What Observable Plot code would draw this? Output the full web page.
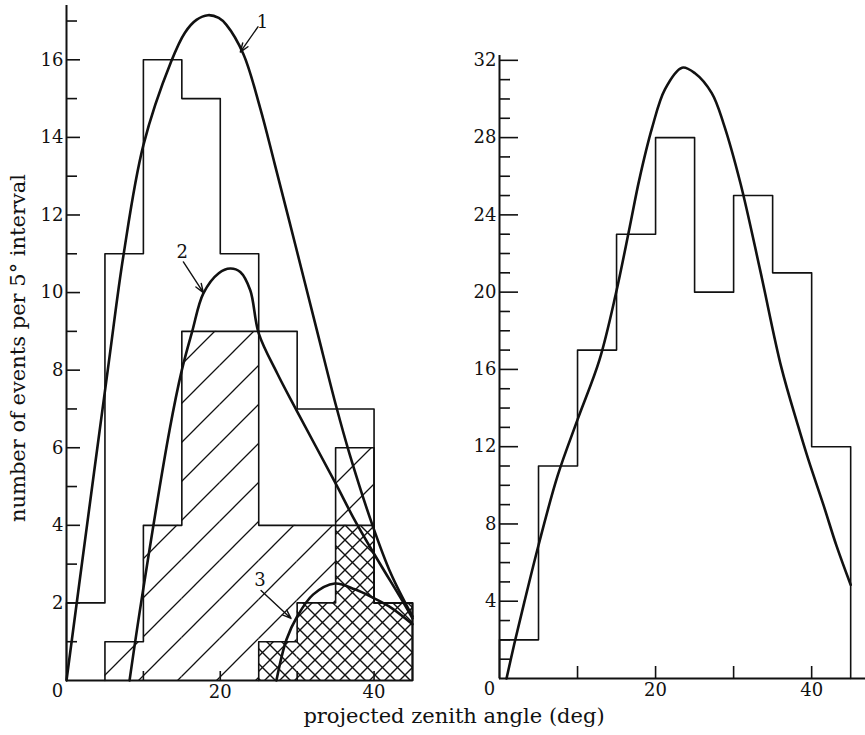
<!DOCTYPE html>
<html>
<head>
<meta charset="utf-8">
<script src="https://cdn.jsdelivr.net/npm/d3@7"></script>
<script src="https://cdn.jsdelivr.net/npm/@observablehq/plot@0.6"></script>
<style>
  html, body { margin: 0; padding: 0; background: #fff; }
  #figure { position: relative; width: 865px; height: 735px; overflow: hidden; background: #fff;
            font-family: "DejaVu Serif", serif; color: #111; }
  #left, #right { position: absolute; top: 0; }
  #left { left: 0; }
  #right { left: 430px; }
  #xlabel { position: absolute; left: 0; width: 908px; top: 706px; text-align: center;
            font-size: 21px; line-height: 21px; white-space: nowrap; }
</style>
</head>
<body>
<!-- fill patterns for the hatched histograms -->
<svg width="0" height="0" style="position:absolute">
  <defs>
    <pattern id="hatch-single" patternUnits="userSpaceOnUse" width="39" height="39">
      <path d="M-2,2 L2,-2 M0,39 L39,0 M37,41 L41,37" stroke="#111" stroke-width="1.3" fill="none"/>
    </pattern>
    <pattern id="hatch-cross" patternUnits="userSpaceOnUse" width="15" height="15">
      <rect width="15" height="15" fill="#fff"/>
      <path d="M-2,2 L2,-2 M0,15 L15,0 M13,17 L17,13 M-2,13 L2,17 M0,0 L15,15 M13,-2 L17,2" stroke="#111" stroke-width="1.4" fill="none"/>
    </pattern>
  </defs>
</svg>
<div id="figure">
  <div id="left"></div>
  <div id="right"></div>
  <div id="xlabel">projected zenith angle (deg)</div>
</div>
<script>
// 5-degree bins of projected zenith angle
const binStarts = [0, 5, 10, 15, 20, 25, 30, 35, 40];
const binWidth = 5;

// left panel: all events, single-hatched subset, cross-hatched subset
const allEvents     = [2, 11, 16, 15, 11, 9, 7, 7, 2];
const hatchedEvents = [0, 1, 4, 9, 9, 4, 4, 6, 2];
const crossEvents   = [0, 0, 0, 0, 0, 1, 2, 4, 2];

// right panel histogram
const rightEvents = [2, 11, 17, 23, 28, 20, 25, 21, 12];

// expected distributions (left panel: curves 1, 2, 3)
const curve1X = [0, 2.8, 5.5, 7.4, 10.0, 13.6, 15.4, 16.9, 18.4, 19.8, 20.8, 23.0, 25.2, 27.1, 29.8, 32.6, 35.1, 36.8, 39.8, 42.2, 45];
const curve1Y = [0, 4.2, 8.2, 10.95, 13.8, 15.95, 16.7, 17.03, 17.15, 17.08, 16.9, 16.15, 14.75, 13.3, 11.2, 9.0, 7.05, 5.85, 4.0, 2.75, 1.65];
const curve2X = [8.2, 9.7, 13.4, 15.0, 16.35, 17.8, 19.8, 21.3, 22.6, 23.9, 25.0, 27.4, 29.9, 35.0, 37.3, 39.9, 43.9, 45];
const curve2Y = [0, 2.0, 6.45, 8.0, 9.0, 9.98, 10.5, 10.62, 10.53, 10.06, 8.95, 7.92, 6.97, 5.08, 4.2, 3.3, 1.98, 1.6];
const curve3X = [27.3, 28.6, 30.0, 32.1, 34.9, 37.5, 39.7, 42.2, 45];
const curve3Y = [0, 1.05, 1.65, 2.22, 2.5, 2.35, 2.15, 1.88, 1.45];

// expected distribution (right panel)
const curveRX = [0.9, 1.9, 3.15, 5.0, 7.45, 10.0, 12.8, 14.9, 16.7, 17.9, 19.55, 21.2, 23.4, 25.05, 27.2, 28.7, 30.9, 33.4, 36.1, 38.3, 39.6, 41.5, 43.2, 45];
const curveRY = [0, 1.8, 3.9, 6.9, 10.5, 13.4, 16.48, 19.9, 23.4, 25.8, 28.5, 30.5, 31.62, 31.33, 30.3, 28.74, 25.6, 21.14, 16.13, 13.02, 11.3, 9.0, 6.85, 4.85];

// curve labels and their pointer arrows
const curveLabels = ["1", "2", "3"];
const labelX = [25.5, 15.06, 25.15];
const labelY = [16.98, 11.05, 2.58];
const arrowFromX = [24.9, 15.2, 25.3];
const arrowFromY = [16.85, 10.79, 2.32];
const arrowToX = [22.6, 17.8, 29.2];
const arrowToY = [16.2, 10.0, 1.6];

// axis ticks
const xTicks = [10, 20, 30, 40];
const xTickLabels = [20, 40];
const leftMajorTicks = [2, 4, 6, 8, 10, 12, 14, 16];
const leftMinorTicks = [1, 3, 5, 7, 9, 11, 13, 15, 17];
const rightMajorTicks = [4, 8, 12, 16, 20, 24, 28, 32];
const rightMinorTicks = [1, 2, 3, 5, 6, 7, 9, 10, 11, 13, 14, 15, 17, 18, 19, 21, 22, 23, 25, 26, 27, 29, 30, 31];

const yLabel = "number of events per 5\u00b0 interval";
const ink = "#111";

function bins(values) {
  return binStarts
    .map((x0, i) => ({x1: x0, x2: x0 + binWidth, y: values[i]}))
    .filter(d => d.y > 0);
}
// closed step outline of a histogram
function outline(values) {
  const b = bins(values);
  const pts = [{x: b[0].x1, y: 0}];
  for (const d of b) pts.push({x: d.x1, y: d.y});
  const last = b[b.length - 1];
  pts.push({x: last.x2, y: last.y}, {x: last.x2, y: 0});
  return pts;
}
const points = (xs, ys) => xs.map((x, i) => ({x, y: ys[i]}));

const baseStyle = {fontFamily: "DejaVu Serif", fontSize: "18px", color: ink, background: "transparent", overflow: "visible"};
const histLine = {x: "x", y: "y", curve: "step-after", stroke: ink, strokeWidth: 1.6};
const fitLine = {x: "x", y: "y", curve: "catmull-rom", stroke: ink, strokeWidth: 2.6};

const left = Plot.plot({
  width: 430, height: 735,
  marginLeft: 66, marginRight: 18, marginTop: 5, marginBottom: 55,
  x: {domain: [0, 45]},
  y: {domain: [0, 17.4]},
  style: baseStyle,
  marks: [
    Plot.rect(bins(hatchedEvents), {x1: "x1", x2: "x2", y1: () => 0, y2: "y", fill: "url(#hatch-single)"}),
    Plot.rect(bins(crossEvents), {x1: "x1", x2: "x2", y1: () => 0, y2: "y", fill: "url(#hatch-cross)"}),
    Plot.line(outline(allEvents), histLine),
    Plot.line(outline(hatchedEvents), histLine),
    Plot.line(outline(crossEvents), histLine),
    Plot.line(points(curve1X, curve1Y), fitLine),
    Plot.line(points(curve2X, curve2Y), fitLine),
    Plot.line(points(curve3X, curve3Y), fitLine),
    Plot.ruleX([0], {stroke: ink, strokeWidth: 2}),
    Plot.ruleY([0], {stroke: ink, strokeWidth: 2}),
    Plot.axisY({ticks: leftMajorTicks, anchor: "right", frameAnchor: "left", tickSize: 13, fill: "none", label: null, stroke: ink, strokeWidth: 1.6}),
    Plot.axisY({ticks: leftMinorTicks, anchor: "right", frameAnchor: "left", tickSize: 10, fill: "none", label: null, stroke: ink, strokeWidth: 1.6}),
    Plot.axisY({ticks: leftMajorTicks, anchor: "left", tickSize: 0, tickPadding: 3, label: null, fill: ink}),
    Plot.axisX({ticks: xTicks, anchor: "top", frameAnchor: "bottom", tickSize: 10, fill: "none", label: null, stroke: ink, strokeWidth: 1.6}),
    Plot.axisX({ticks: xTickLabels, anchor: "bottom", tickSize: 0, tickPadding: 5, label: null, fill: ink}),
    Plot.text(["0"], {x: () => 0, y: () => 0, text: d => d, dx: -9, dy: 11, fill: ink}),
    Plot.arrow(curveLabels, {
      x1: (d, i) => arrowFromX[i], y1: (d, i) => arrowFromY[i],
      x2: (d, i) => arrowToX[i], y2: (d, i) => arrowToY[i],
      stroke: ink, strokeWidth: 1.4, headLength: 10, headAngle: 40
    }),
    Plot.text(curveLabels, {x: (d, i) => labelX[i], y: (d, i) => labelY[i], text: d => d, fontSize: 18, fill: ink}),
    Plot.text([yLabel], {frameAnchor: "left", textAnchor: "middle", rotate: -90, dx: -48, dy: 5, fontSize: 21, fill: ink, text: d => d})
  ]
});

const right = Plot.plot({
  width: 435, height: 735,
  marginLeft: 69, marginRight: 0, marginTop: 55, marginBottom: 57,
  x: {domain: [0, 46.9]},
  y: {domain: [0, 32.25]},
  style: baseStyle,
  marks: [
    Plot.line(outline(rightEvents), histLine),
    Plot.line(points(curveRX, curveRY), fitLine),
    Plot.ruleX([0], {stroke: ink, strokeWidth: 2}),
    Plot.ruleY([0], {stroke: ink, strokeWidth: 2}),
    Plot.axisY({ticks: rightMajorTicks, anchor: "right", frameAnchor: "left", tickSize: 18, fill: "none", label: null, stroke: ink, strokeWidth: 1.6}),
    Plot.axisY({ticks: rightMinorTicks, anchor: "right", frameAnchor: "left", tickSize: 10, fill: "none", label: null, stroke: ink, strokeWidth: 1.6}),
    Plot.axisY({ticks: rightMajorTicks, anchor: "left", tickSize: 0, tickPadding: 3, label: null, fill: ink}),
    Plot.axisX({ticks: xTicks, anchor: "top", frameAnchor: "bottom", tickSize: 13, fill: "none", label: null, stroke: ink, strokeWidth: 1.6}),
    Plot.axisX({ticks: xTickLabels, anchor: "bottom", tickSize: 0, tickPadding: 5, label: null, fill: ink}),
    Plot.text(["0"], {x: () => 0, y: () => 0, text: d => d, dx: -10, dy: 11, fill: ink})
  ]
});

document.getElementById("left").appendChild(left);
document.getElementById("right").appendChild(right);
</script>
</body>
</html>
